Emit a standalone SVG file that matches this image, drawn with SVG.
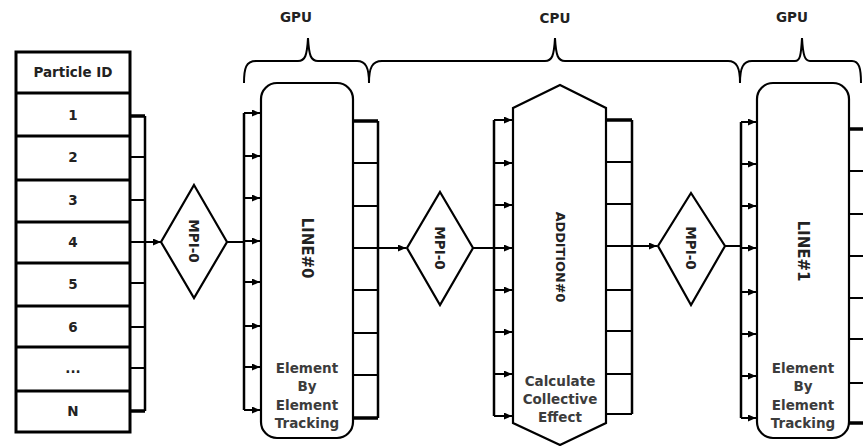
<svg xmlns="http://www.w3.org/2000/svg" width="863" height="446" viewBox="0 0 863 446">
<defs>
<marker id="ah" markerUnits="userSpaceOnUse" markerWidth="9" markerHeight="8" refX="8" refY="3.5" orient="auto"><path d="M0,0 L8,3.5 L0,7 z" fill="#000"/></marker>
<style>
.sh{fill:#fff;stroke:#000;stroke-width:2.2}
.tb{fill:#fff;stroke:#000;stroke-width:3}
.ln{fill:none;stroke:#000;stroke-width:2}
.bus{fill:none;stroke:#000;stroke-width:2.5}
.thk{fill:none;stroke:#000;stroke-width:3.5}
.ar{fill:none;stroke:#000;stroke-width:2;marker-end:url(#ah)}
.br{fill:none;stroke:#000;stroke-width:2}
text{font-family:"DejaVu Sans","Noto Sans","Liberation Sans",sans-serif;font-weight:bold;fill:#222;text-anchor:middle}
.t13{font-size:13.5px}
.mpi{font-size:13.5px}
.t14{font-size:15px}
.add{font-size:12.8px}
.sub{font-size:13.5px;fill:#3c3c3c}
</style>
</defs>

<g id="labels">
<text class="t13" x="296" y="22">GPU</text>
<text class="t13" x="555" y="23">CPU</text>
<text class="t13" x="792" y="22">GPU</text>
</g>

<g id="braces">
<path class="br" d="M244,83 C244,68 246,61 256,61 H298 C305,61 307,56 308,38 C309,56 311,61 318,61 H357 C366,61 369,68 369,83"/>
<path class="br" d="M369,83 C369,68 372,61 382,61 H545 C552,61 554,56 555,38 C556,56 558,61 565,61 H728 C737,61 740,68 740,83"/>
<path class="br" d="M740,83 C740,68 743,61 752,61 H795 C800,61 801,56 802,38 C803,56 805,61 810,61 H852 C859,61 861,68 861,83"/>
</g>

<g id="particle-table">
<rect class="tb" x="16" y="52" width="114" height="380"/>
<path class="tb" d="M16,93 H130 M16,136 H130 M16,180 H130 M16,222 H130 M16,263 H130 M16,306 H130 M16,347 H130 M16,391 H130"/>
<text class="t13" x="73" y="77">Particle ID</text>
<text class="t13" x="73" y="120">1</text>
<text class="t13" x="73" y="162">2</text>
<text class="t13" x="73" y="205">3</text>
<text class="t13" x="73" y="247">4</text>
<text class="t13" x="73" y="289">5</text>
<text class="t13" x="73" y="332">6</text>
<text class="t13" x="73" y="373">...</text>
<text class="t13" x="73" y="416">N</text>
</g>

<g id="mpi1">
<polygon class="sh" points="194,185 227,242 194,298 161,242"/>
<text class="mpi" transform="translate(194,241) rotate(90)" dy="5">MPI-0</text>
</g>

<g id="line0">
<rect class="sh" x="261" y="83" width="92" height="355" rx="16"/>
<text class="t14" transform="translate(307,248) rotate(90)" dy="5">LINE#0</text>
<text class="sub" x="307" y="373">Element</text>
<text class="sub" x="307" y="391">By</text>
<text class="sub" x="307" y="410">Element</text>
<text class="sub" x="307" y="428">Tracking</text>
</g>

<g id="mpi2">
<polygon class="sh" points="440,192 473,248 440,305 407,248"/>
<text class="mpi" transform="translate(440,248) rotate(90)" dy="5">MPI-0</text>
</g>

<g id="addition0">
<polygon class="sh" points="513,108 560,85 606,108 606,423 560,445 513,423"/>
<text class="add" transform="translate(560,257) rotate(90)" dy="4.5">ADDITION#0</text>
<text class="sub" x="560" y="386">Calculate</text>
<text class="sub" x="560" y="404">Collective</text>
<text class="sub" x="560" y="422">Effect</text>
</g>

<g id="mpi3">
<polygon class="sh" points="691,193 725,246 691,305 658,246"/>
<text class="mpi" transform="translate(691,248) rotate(90)" dy="5">MPI-0</text>
</g>

<g id="line1">
<rect class="sh" x="757" y="83" width="92" height="355" rx="16"/>
<text class="t14" transform="translate(803,251) rotate(90)" dy="5">LINE#1</text>
<text class="sub" x="803" y="373">Element</text>
<text class="sub" x="803" y="391">By</text>
<text class="sub" x="803" y="410">Element</text>
<text class="sub" x="803" y="428">Tracking</text>
</g>

<g id="connectors">
<path class="thk" d="M130,116 H145"/>
<path class="thk" d="M130,411 H145"/>
<path class="bus" d="M145,116 V411"/>
<path class="ln" d="M130,157 H145 M130,200 H145 M130,283 H145 M130,327 H145 M130,368 H145"/>
<path class="ar" d="M130,242 H161"/>
<path class="ln" d="M227,242 H244"/>
<path class="bus" d="M244,113 V410"/>
<path class="ar" d="M244,113 H260"/>
<path class="ar" d="M244,156 H260"/>
<path class="ar" d="M244,198 H260"/>
<path class="ar" d="M244,241 H260"/>
<path class="ar" d="M244,282 H260"/>
<path class="ar" d="M244,326 H260"/>
<path class="ar" d="M244,367 H260"/>
<path class="ar" d="M244,410 H260"/>
<path class="thk" d="M353,121 H378"/>
<path class="thk" d="M353,418 H378"/>
<path class="bus" d="M378,121 V418"/>
<path class="ln" d="M353,163 H378 M353,206 H378 M353,290 H378 M353,333 H378 M353,375 H378"/>
<path class="ar" d="M353,248 H406"/>
<path class="ln" d="M473,248 H494"/>
<path class="bus" d="M494,120 V416"/>
<path class="ar" d="M494,120 H512"/>
<path class="ar" d="M494,163 H512"/>
<path class="ar" d="M494,205 H512"/>
<path class="ar" d="M494,248 H512"/>
<path class="ar" d="M494,290 H512"/>
<path class="ar" d="M494,332 H512"/>
<path class="ar" d="M494,374 H512"/>
<path class="ar" d="M494,416 H512"/>
<path class="thk" d="M606,120 H632"/>
<path class="bus" d="M632,120 V414"/>
<path class="ln" d="M606,162 H632 M606,204 H632 M606,290 H632 M606,331 H632 M606,374 H632 M606,414 H632"/>
<path class="ar" d="M606,246 H657"/>
<path class="ln" d="M725,246 H741"/>
<path class="bus" d="M741,122 V418"/>
<path class="ar" d="M741,122 H756"/>
<path class="ar" d="M741,164 H756"/>
<path class="ar" d="M741,206 H756"/>
<path class="ar" d="M741,248 H756"/>
<path class="ar" d="M741,292 H756"/>
<path class="ar" d="M741,334 H756"/>
<path class="ar" d="M741,376 H756"/>
<path class="ar" d="M741,418 H756"/>
<path class="thk" d="M849,129 H863"/>
<path class="thk" d="M849,423 H863"/>
<path class="ln" d="M849,171 H863 M849,214 H863 M849,256 H863 M849,298 H863 M849,339 H863 M849,383 H863"/>
</g>
</svg>
